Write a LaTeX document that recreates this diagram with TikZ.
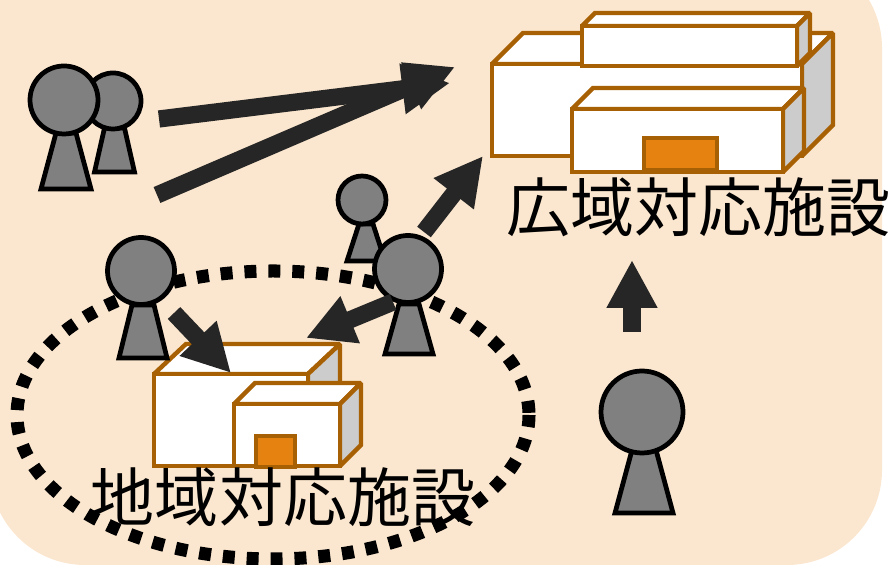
\documentclass[tikz,border=0pt]{standalone}
\usepackage{fontspec}
\newfontfamily\cjk{Noto Sans CJK JP}
\usetikzlibrary{arrows.meta}
\definecolor{bgc}{HTML}{FBE7CF}
\definecolor{brown}{HTML}{A86004}
\definecolor{doorc}{HTML}{E6820F}
\definecolor{sidec}{HTML}{CCCCCC}
\definecolor{arrowc}{HTML}{262626}
\definecolor{personc}{HTML}{808080}
\tikzset{
  x=0.01cm,y=-0.01cm,
  personline/.style={draw=black,line width=1.35pt,fill=personc,line join=miter,miter limit=2},
  wall/.style={draw=brown,line width=1.25pt,fill=white,line join=miter,miter limit=2},
  sidewall/.style={wall,fill=sidec},
  doorway/.style={draw=brown,line width=1.25pt,fill=doorc},
  bigarrow/.style={draw=arrowc,line width=4.9pt,-{Triangle[length=13.6pt,width=13.5pt]}},
  label/.style={font=\cjk\fontsize{18.2pt}{20pt}\selectfont,inner sep=0pt,text=black},
  pics/person/.style n args={6}{code={
    \path[personline] (#2,0) -- (#3,#6) -- (-#3,#6) -- (-#2,0) -- cycle;
    \path[personline] (#5,-#4) circle[radius=#1];
  }}
}
\newcommand{\building}[6]{%
  \path[wall] (#1,#2) -- ++(#5,#6) -- ++(#3-#1,0) -- (#3,#2) -- cycle;
  \path[sidewall] (#3,#2) -- ++(#5,#6) -- ++(0,#4-#2) -- (#3,#4) -- cycle;
  \path[wall] (#1,#2) rectangle (#3,#4);
}
\begin{document}
\begin{tikzpicture}
\useasboundingbox (0,0) rectangle (892,565);
\begin{scope}
\clip (0,0) rectangle (892,565);
\path[fill=bgc,rounded corners=0.95cm] (-10,-47) rectangle (882,565);
\path[fill=bgc] (-10,-47) rectangle (200,200);
\end{scope}

\draw[line width=3.7pt,dash pattern=on 3.4pt off 3.4pt] (273,415) ellipse[x radius=256,y radius=144];

% wide-area facility
\building{492}{64}{802}{156}{31}{-31}
\building{582}{26}{797}{66}{13}{-13}
\building{572}{109}{783}{172}{21}{-21}
\path[doorway] (644,138) rectangle (717,170);

% regional facility
\building{154}{374}{308}{466}{32}{-30}
\building{234}{404}{340}{466}{21}{-21}
\path[doorway] (256,436) rectangle (295,467);

% people: radius, top half, bottom half, head rise, head dx, height
\pic at (114.5,128) {person={28}{10}{20}{27}{-1.5}{44}};
\pic at (66,133) {person={34}{10}{25}{33}{-2}{56}};
\pic at (143,305) {person={33.5}{11}{24}{34}{-2}{53}};
\pic at (366,224) {person={24}{7}{19}{24}{-4}{37}};
\pic at (409,304) {person={33.5}{10}{24}{35}{-1}{50}};
\pic at (644,450) {person={41}{12}{29}{38}{-2}{63}};

% connectors
\coordinate (a1s) at (159,119);
\coordinate (a1e) at (450,83);
\coordinate (a2s) at (157,195);
\coordinate (a2e) at (455,67);
\coordinate (a3s) at (424,232);
\coordinate (a3e) at (483,156);
\coordinate (a4s) at (632,332);
\coordinate (a4e) at (632,260);
\coordinate (a5s) at (174,313);
\coordinate (a5e) at (231,373);
\coordinate (a6s) at (393,302);
\coordinate (a6e) at (306,338);
\draw[bigarrow] (a1s) -- (a1e);
\draw[bigarrow] (a2s) -- (a2e);
\draw[bigarrow] (a3s) -- (a3e);
\draw[bigarrow] (a4s) -- (a4e);
\draw[bigarrow] (a5s) -- (a5e);
\draw[bigarrow] (a6s) -- (a6e);

% labels
\node[label] (wide) at (698,207) {広域対応施設};
\node[label] (local) at (283,497) {地域対応施設};
\end{tikzpicture}
\end{document}
